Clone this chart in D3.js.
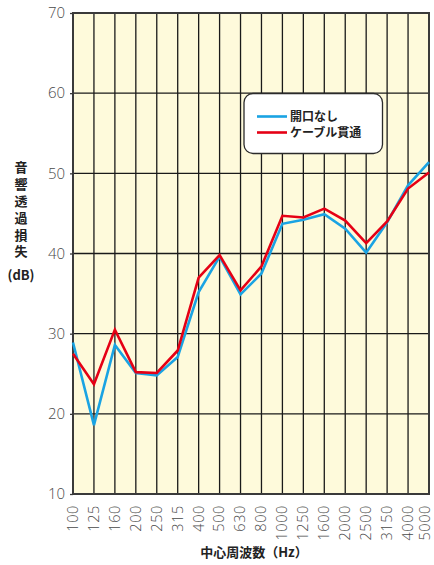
<!DOCTYPE html>
<html>
<head>
<meta charset="utf-8">
<script src="https://cdn.jsdelivr.net/npm/d3@7/dist/d3.min.js"></script>
<style>
  html, body { margin: 0; padding: 0; background: #fff; }
  svg { display: block; }
</style>
</head>
<body>
<svg id="chart" width="434" height="565"></svg>
<script>
// 1/3 octave band centre frequencies (Hz)
const frequencies = ["100","125","160","200","250","315","400","500","630","800","1000","1250","1600","2000","2500","3150","4000","5000"];
// Sound transmission loss (dB)
const openingNone = [28.9,18.6,28.6,25.1,24.8,27.1,35.2,39.6,34.9,37.5,43.7,44.2,44.9,43.1,40.1,43.9,48.5,51.4];
const cableThrough = [27.5,23.7,30.5,25.2,25.1,27.9,37.0,39.8,35.4,38.4,44.7,44.5,45.6,44.1,41.3,44.0,48.1,50.1];
const yTicks = [10,20,30,40,50,60,70];
const seriesNames = ["開口なし","ケーブル貫通"];
const seriesColors = ["#1aa3e3","#e50015"];

const svg = d3.select("#chart");
const plotL = 73, plotR = 429, plotT = 13, plotB = 494;

const x = d3.scalePoint().domain(frequencies).range([plotL, plotR]);
const y = d3.scaleLinear().domain([10, 70]).range([plotB, plotT]);

// plot background
svg.append("rect")
  .attr("x", plotL).attr("y", plotT)
  .attr("width", plotR - plotL).attr("height", plotB - plotT)
  .attr("fill", "#fefadb");

// vertical grid at each band
svg.append("g").selectAll("line").data(frequencies).join("line")
  .attr("x1", d => x(d)).attr("x2", d => x(d))
  .attr("y1", plotT).attr("y2", plotB)
  .attr("stroke", "#1a1a1a").attr("stroke-width", 1.3);

// horizontal grid
svg.append("g").selectAll("line").data(yTicks).join("line")
  .attr("x1", plotL).attr("x2", plotR)
  .attr("y1", d => y(d)).attr("y2", d => y(d))
  .attr("stroke", "#1a1a1a").attr("stroke-width", 1.3);

// frame
svg.append("rect")
  .attr("x", plotL).attr("y", plotT)
  .attr("width", plotR - plotL).attr("height", plotB - plotT)
  .attr("fill", "none").attr("stroke", "#3a3a3a").attr("stroke-width", 2);

// y axis
const yAxis = d3.axisLeft(y).tickValues(yTicks).tickSize(3).tickPadding(5);
const gy = svg.append("g").attr("transform", `translate(${plotL},0)`).call(yAxis);
gy.select(".domain").remove();
gy.selectAll(".tick line").attr("stroke", "#3a3a3a").attr("stroke-width", 1.3);
gy.selectAll(".tick text")
  .attr("fill", "#4a4a4a")
  .style("font-family", "'Open Sans', 'DejaVu Sans', sans-serif")
  .style("font-size", "15px")
  .style("font-weight", "300");

// x axis with rotated labels; the last one is nudged inward to stay on the page
const xAxis = d3.axisBottom(x).tickSize(0).tickPadding(0);
const gx = svg.append("g").attr("transform", `translate(0,${plotB})`).call(xAxis);
gx.select(".domain").remove();
const lastFreq = frequencies[frequencies.length - 1];
gx.selectAll(".tick text")
  .attr("fill", "#4a4a4a")
  .attr("transform", "rotate(-90)")
  .attr("x", -11).attr("y", 0)
  .attr("dy", d => d === lastFreq ? "0.05em" : "0.3em")
  .attr("text-anchor", "end")
  .style("font-family", "'Open Sans', 'DejaVu Sans', sans-serif")
  .style("font-size", "14.5px")
  .style("font-weight", "300")
  .style("letter-spacing", "0.6px");

// series lines
const line = d3.line().x((d, i) => x(frequencies[i])).y(d => y(d));
[openingNone, cableThrough].forEach((s, k) => {
  svg.append("path")
    .attr("d", line(s))
    .attr("fill", "none")
    .attr("stroke", seriesColors[k])
    .attr("stroke-width", 2.6)
    .attr("stroke-linejoin", "miter");
});

// legend
const lg = svg.append("g");
lg.append("rect")
  .attr("x", 244).attr("y", 93.5).attr("width", 138.5).attr("height", 60)
  .attr("rx", 9).attr("ry", 9)
  .attr("fill", "#fff").attr("stroke", "#2a2a2a").attr("stroke-width", 1.3);
seriesNames.forEach((name, k) => {
  const ly = 116.5 + k * 16;
  lg.append("line")
    .attr("x1", 257).attr("x2", 287).attr("y1", ly).attr("y2", ly)
    .attr("stroke", seriesColors[k]).attr("stroke-width", 2.6);
  lg.append("text")
    .attr("x", 290).attr("y", ly + 4.3)
    .attr("fill", "#222")
    .style("font-family", "'Noto Sans CJK JP', sans-serif")
    .style("font-size", "12px")
    .style("font-weight", "700")
    .text(name);
});

// y axis title, set vertically
svg.append("text")
  .attr("x", 21).attr("y", 161)
  .attr("fill", "#222")
  .style("writing-mode", "vertical-rl")
  .style("text-orientation", "upright")
  .style("letter-spacing", "3.8px")
  .style("font-family", "'Noto Sans CJK JP', sans-serif")
  .style("font-size", "13px")
  .style("font-weight", "700")
  .text("音響透過損失");
svg.append("text")
  .attr("x", 21).attr("y", 280)
  .attr("fill", "#222")
  .attr("text-anchor", "middle")
  .style("font-family", "'Noto Sans CJK JP', sans-serif")
  .style("font-size", "13px")
  .style("font-weight", "700")
  .text("(dB)");

// x axis title
svg.append("text")
  .attr("x", 254).attr("y", 557)
  .attr("fill", "#222")
  .attr("text-anchor", "middle")
  .style("font-family", "'Noto Sans CJK JP', sans-serif")
  .style("font-size", "13px")
  .style("font-weight", "700")
  .text("中心周波数（Hz）");
</script>
</body>
</html>
